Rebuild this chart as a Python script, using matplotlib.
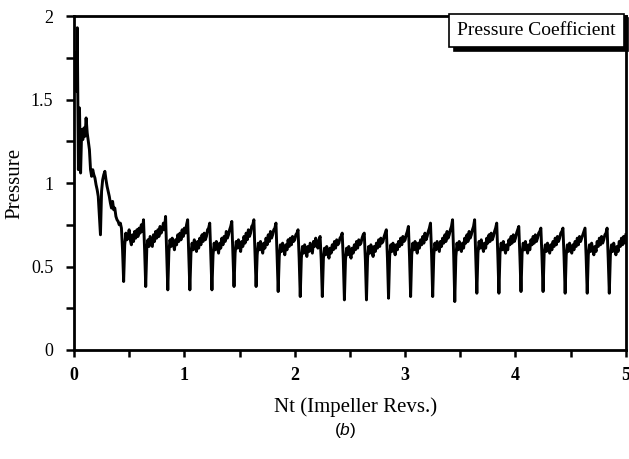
import numpy as np
import matplotlib
matplotlib.use("Agg")
import matplotlib.pyplot as plt
from matplotlib.ticker import MultipleLocator

plt.rcParams["font.family"] = ["Liberation Serif", "DejaVu Serif"]
plt.rcParams["mathtext.fontset"] = "custom"
plt.rcParams["mathtext.it"] = "Liberation Sans:italic"
plt.rcParams["mathtext.rm"] = "Liberation Sans"

# sampling interval of the monitor point, in impeller revolutions
dt = 0.01

# start-up transient, Nt = 0.00 .. 0.44
p_startup = [1.72, 1.78, 1.55, 1.93, 1.08, 1.45, 1.06, 1.32, 1.26, 1.33,
             1.28, 1.39, 1.30, 1.25, 1.20, 1.08, 1.04, 1.08, 1.05, 1.03,
             0.99, 0.96, 0.92, 0.80, 0.69, 0.95, 1.02, 1.05, 1.07, 1.02,
             0.98, 0.95, 0.92, 0.88, 0.85, 0.89, 0.84, 0.85, 0.80, 0.78,
             0.77, 0.75, 0.76, 0.73, 0.60]

# one row per blade passage (0.2 rev), starting at each blade dip
p_blade_passes = [
    [0.41, 0.63, 0.70, 0.66, 0.68, 0.72, 0.66, 0.63, 0.69, 0.65, 0.71, 0.67, 0.72, 0.68, 0.73, 0.70, 0.75, 0.71, 0.78, 0.60],
    [0.38, 0.61, 0.66, 0.62, 0.68, 0.65, 0.62, 0.69, 0.65, 0.71, 0.67, 0.72, 0.68, 0.74, 0.70, 0.72, 0.76, 0.72, 0.80, 0.58],
    [0.36, 0.59, 0.66, 0.62, 0.67, 0.64, 0.60, 0.66, 0.63, 0.69, 0.65, 0.70, 0.66, 0.72, 0.68, 0.73, 0.70, 0.75, 0.78, 0.57],
    [0.36, 0.58, 0.64, 0.60, 0.66, 0.62, 0.59, 0.65, 0.61, 0.67, 0.63, 0.69, 0.65, 0.70, 0.66, 0.68, 0.72, 0.73, 0.76, 0.56],
    [0.36, 0.57, 0.64, 0.60, 0.65, 0.62, 0.58, 0.64, 0.61, 0.67, 0.63, 0.68, 0.65, 0.71, 0.67, 0.69, 0.72, 0.74, 0.77, 0.57],
    [0.38, 0.58, 0.65, 0.61, 0.66, 0.63, 0.59, 0.65, 0.62, 0.68, 0.64, 0.70, 0.66, 0.72, 0.68, 0.70, 0.74, 0.75, 0.78, 0.58],
    [0.38, 0.57, 0.64, 0.60, 0.65, 0.61, 0.58, 0.64, 0.61, 0.67, 0.63, 0.69, 0.65, 0.71, 0.67, 0.69, 0.72, 0.73, 0.76, 0.57],
    [0.35, 0.56, 0.63, 0.59, 0.64, 0.61, 0.57, 0.63, 0.60, 0.66, 0.62, 0.67, 0.63, 0.68, 0.65, 0.66, 0.69, 0.70, 0.72, 0.55],
    [0.32, 0.55, 0.62, 0.58, 0.63, 0.59, 0.56, 0.62, 0.59, 0.64, 0.61, 0.58, 0.65, 0.62, 0.67, 0.63, 0.61, 0.66, 0.68, 0.54],
    [0.32, 0.55, 0.61, 0.57, 0.62, 0.59, 0.55, 0.61, 0.58, 0.63, 0.60, 0.65, 0.61, 0.66, 0.63, 0.64, 0.67, 0.68, 0.70, 0.54],
    [0.30, 0.54, 0.61, 0.57, 0.62, 0.58, 0.55, 0.61, 0.58, 0.63, 0.60, 0.65, 0.61, 0.66, 0.63, 0.64, 0.67, 0.69, 0.70, 0.54],
    [0.30, 0.55, 0.62, 0.58, 0.63, 0.59, 0.56, 0.62, 0.59, 0.64, 0.61, 0.66, 0.62, 0.67, 0.64, 0.65, 0.68, 0.70, 0.72, 0.55],
    [0.31, 0.56, 0.63, 0.59, 0.64, 0.60, 0.57, 0.63, 0.60, 0.65, 0.62, 0.67, 0.63, 0.68, 0.65, 0.66, 0.69, 0.71, 0.74, 0.56],
    [0.32, 0.57, 0.64, 0.60, 0.65, 0.61, 0.58, 0.64, 0.61, 0.66, 0.63, 0.68, 0.64, 0.70, 0.66, 0.68, 0.71, 0.73, 0.76, 0.57],
    [0.32, 0.57, 0.64, 0.60, 0.65, 0.62, 0.59, 0.65, 0.62, 0.67, 0.64, 0.69, 0.65, 0.71, 0.67, 0.69, 0.72, 0.74, 0.78, 0.57],
    [0.29, 0.56, 0.64, 0.60, 0.65, 0.61, 0.59, 0.64, 0.61, 0.67, 0.64, 0.69, 0.65, 0.71, 0.67, 0.69, 0.72, 0.74, 0.78, 0.57],
    [0.34, 0.58, 0.65, 0.61, 0.66, 0.62, 0.59, 0.64, 0.61, 0.67, 0.64, 0.69, 0.65, 0.70, 0.66, 0.68, 0.71, 0.73, 0.76, 0.57],
    [0.34, 0.58, 0.64, 0.60, 0.65, 0.61, 0.58, 0.63, 0.60, 0.66, 0.63, 0.68, 0.64, 0.69, 0.65, 0.67, 0.70, 0.72, 0.74, 0.56],
    [0.35, 0.58, 0.64, 0.60, 0.65, 0.61, 0.58, 0.63, 0.60, 0.66, 0.63, 0.68, 0.64, 0.69, 0.65, 0.67, 0.70, 0.71, 0.73, 0.56],
    [0.35, 0.58, 0.63, 0.59, 0.64, 0.61, 0.58, 0.63, 0.60, 0.65, 0.62, 0.67, 0.63, 0.68, 0.65, 0.67, 0.70, 0.71, 0.73, 0.56],
    [0.34, 0.57, 0.63, 0.59, 0.64, 0.60, 0.58, 0.63, 0.60, 0.65, 0.62, 0.67, 0.63, 0.68, 0.65, 0.67, 0.69, 0.71, 0.73, 0.56],
    [0.34, 0.57, 0.63, 0.59, 0.64, 0.60, 0.57, 0.62, 0.59, 0.65, 0.62, 0.67, 0.63, 0.68, 0.64, 0.66, 0.69, 0.70, 0.73, 0.55],
    [0.34, 0.57, 0.63, 0.59, 0.64, 0.60, 0.57, 0.62, 0.59, 0.65, 0.62, 0.67, 0.63, 0.68, 0.64, 0.69],
]

pressure = np.array(p_startup + [v for row in p_blade_passes for v in row])
nt = np.arange(len(pressure)) * dt

fig = plt.figure(figsize=(6.29, 4.59), dpi=100)
ax = fig.add_axes([0.1176, 0.2375, 0.8774, 0.7275])

line, = ax.plot(nt, pressure, color="black", lw=2.1, label="Pressure Coefficient")

ax.set_xlim(0, 5)
ax.set_ylim(0, 2)
ax.xaxis.set_major_locator(MultipleLocator(1))
ax.xaxis.set_minor_locator(MultipleLocator(0.5))
ax.yaxis.set_major_locator(MultipleLocator(0.5))
ax.yaxis.set_minor_locator(MultipleLocator(0.25))
ax.set_yticks([0, 0.5, 1, 1.5, 2], ["0", "0.5", "1", "1.5", "2"])

for s in ax.spines.values():
    s.set_linewidth(2)
ax.tick_params(which="both", direction="out", width=1.8, labelsize=13)
ax.tick_params(axis="x", which="major", length=5, pad=7, labelsize=13)
ax.tick_params(axis="x", which="minor", length=5)
ax.tick_params(axis="y", which="major", length=6, pad=9)
ax.tick_params(axis="y", which="minor", length=6)
for lbl in ax.get_xticklabels():
    lbl.set_fontweight("bold")

ax.set_ylabel("Pressure", fontsize=15)
ax.yaxis.set_label_coords(-0.089, 0.5)
ax.set_xlabel("Nt (Impeller Revs.)", fontsize=15)
ax.xaxis.set_label_coords(0.51, -0.141)
fig.text(0.548, 0.063, "($\\it{b}$)", fontsize=12.5, ha="center", va="center",
         family="Liberation Sans")

leg = ax.legend(handles=[line], loc="upper right", bbox_to_anchor=(0.996, 1.006),
                borderaxespad=0, handlelength=0, handletextpad=0,
                fancybox=False, shadow={"color": "black", "alpha": 1, "ox": 3, "oy": -3},
                fontsize=14, borderpad=0.4, framealpha=1)
leg.get_frame().set_edgecolor("black")
leg.get_frame().set_linewidth(1.2)
for h in leg.legend_handles:
    h.set_visible(False)

fig.savefig("out.png", dpi=100)
